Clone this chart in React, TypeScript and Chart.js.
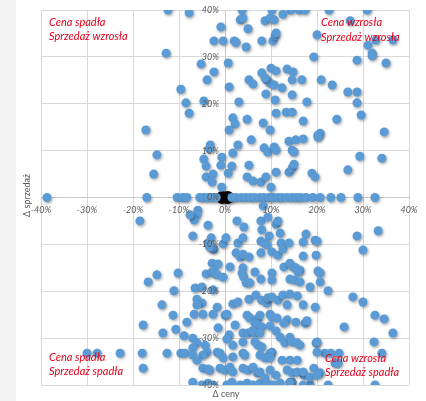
import { useEffect, useRef } from 'react';
import { Chart, registerables } from 'chart.js';

Chart.register(...registerables);

// Axis ticks (percent)
const tickValues = [-40, -30, -20, -10, 0, 10, 20, 30, 40];
const tickLabels = ['-40%', '-30%', '-20%', '-10%', '0%', '10%', '20%', '30%', '40%'];

const xAxisTitle = 'Δ ceny';
const yAxisTitle = 'Δ sprzedaż';

const quadrantLabels = {
  topLeft: ['Cena spadła', 'Sprzedaż wzrosła'],
  topRight: ['Cena wzrosła', 'Sprzedaż wzrosła'],
  bottomLeft: ['Cena spadła', 'Sprzedaż spadła'],
  bottomRight: ['Cena wzrosła', 'Sprzedaż spadła'],
};

// [Δ price %, Δ sales %] — points lying on the zero-sales line
const zeroSalesRow: [number, number][] = [
  [-38.7, 0], [-17, 0], [-10.4, 0], [-9.2, 0], [-8.3, 0], [-5.5, 0], [-4.6, 0], [-3.7, 0],
  [-2.8, 0], [-1.9, 0], [1.5, 0], [2.4, 0], [3.5, 0], [4.5, 0], [5.6, 0], [6.5, 0],
  [7.6, 0], [8.5, 0], [9.6, 0], [10.4, 0], [11.5, 0], [12.4, 0], [13.5, 0], [14.6, 0],
  [15.6, 0], [16.5, 0], [17.6, 0], [19.1, 0], [20.7, 0], [23, 0], [25.2, 0], [28.9, 0], [32.6, 0],
];

// Sales up
const salesUp: [number, number][] = [
  [-12.4, 40], [-7.8, 39.4], [-12.8, 30.8], [-5.2, 28.5], [-3.9, 25.1], [-2.4, 26.8],
  [-9.6, 23.1], [-8.5, 20.2], [-4.6, 20.6], [-7.8, 18], [-17.2, 14.4], [-14.8, 9.1],
  [-15.5, 5], [-3.2, 11.2], [-3.4, 10.4], [-4.6, 8.2], [-4.1, 6.7], [-4.1, 4.4],
  [-2.6, 5], [-2.8, 3.3], [-0.7, 8.6], [-0.9, 6.9], [-0.7, 2.2], [1.5, 6.7], [0.7, 5.2],
  [-2.4, 33.4], [-0.4, 33.4],
  [3.7, 40], [10.2, 40], [14.3, 40], [16.1, 40], [17.4, 40], [22.6, 40], [30.9, 40],
  [3.3, 37.9], [3.9, 38.3], [8.7, 37.7], [9.8, 38.3], [10.7, 37.9], [12.6, 39.1],
  [-0.9, 36.4], [5, 36], [20, 34.7], [2, 33.4], [2.4, 33.1], [4.6, 32.1], [8, 33.4],
  [10.4, 33.4], [10.9, 34.5], [11.1, 35.1], [0.7, 28.7], [0.9, 23.6], [5.2, 25.1],
  [6.1, 24.2], [8, 26.6], [9.1, 25.1], [9.8, 24.4], [10.7, 24], [10, 27.6], [11.1, 27],
  [8.7, 25.5], [13.5, 27.4], [14.8, 26.8], [14.6, 25.1], [16.7, 25.1], [12.4, 23.4],
  [8.9, 22.1], [14.6, 21.9], [19.3, 30], [10.9, 20.8], [17.8, 20.4], [3, 20.4],
  [1.7, 17], [2.2, 15.7], [0.9, 14.4], [4.8, 16.7], [8.3, 15.9], [9.8, 14.4], [11.1, 18],
  [13.3, 18.2], [14.6, 18.2], [17, 16.3], [20.2, 13.3], [2.8, 11.2], [5.7, 12.3],
  [8.5, 10.6], [9.3, 9.7], [10.7, 10.8], [11.1, 10.1], [13.9, 12], [15.4, 12.3], [17, 12.5],
  [14.6, 10.1], [15, 9.7], [1.7, 9.5], [5.2, 6.9], [4.8, 4.4], [6.1, 3.5], [7.8, 3.3],
  [8.9, 4.4], [10, 2.2], [11.1, 5.4], [13.9, 5.4], [14.6, 6.3], [15, 7.1], [18.9, 5.2], [19.6, 4.4],
  [27.2, 37.7], [32.8, 33.6], [36.5, 33.6], [31.1, 32.5], [32, 30.8], [32, 30.2], [28.7, 29.3],
  [35, 28.7], [20.9, 25.1], [23.3, 24], [26.7, 22.5], [28.7, 22.5], [28.7, 20.2], [29.6, 17.6],
  [24.3, 16.7], [34.6, 14], [20.7, 13.7], [20.2, 12.9], [29.3, 8.8], [34.1, 8.4], [26.7, 5.9],
];

// Sales down
const salesDown: [number, number][] = [
  [8.3, -1.8], [-5.9, -2.7], [-6.1, -3.7], [-6.7, -4.8], [-3.7, -5.9], [-7.6, -3.7], [-7, -8.2],
  [2.6, -5], [4.1, -6.3], [7.8, -5], [8, -6.9], [9.3, -4.2], [11.1, -5.7], [11.5, -5],
  [9.6, -8.2], [12, -7.6], [17.6, -7.8], [19.6, -9.1], [-3, -8.6], [-3.7, -9.7], [-2.4, -11],
  [-2.8, -10.8], [-0.4, -9.9], [0.2, -8.6], [2.8, -9.7], [3.9, -8.6], [2.4, -11.8], [3.3, -12.7],
  [3.9, -12.1], [5.2, -12.7], [7.8, -9.3], [7.8, -11.8], [8.7, -9.7], [9.1, -10.1], [10.2, -11.6],
  [11.5, -12.3], [12.2, -9.7], [12.6, -11], [13.9, -9.7], [17, -9.5], [17, -12.5], [19.8, -12.3],
  [-2.8, -14], [-1.5, -14.2], [-4.1, -16.3], [-2.8, -15.9], [-2.2, -15.9], [-1.7, -16.5],
  [-0.4, -17], [1.1, -14.8], [3.9, -15], [3.7, -16.1], [4.1, -17], [4.6, -18.2], [5.4, -18.2],
  [6.5, -15.9], [7.8, -17.4], [10.2, -16.1], [10.2, -17.6], [12.8, -14.8], [14.1, -14],
  [14.8, -14.8], [15.4, -15], [16.3, -15.5], [15.9, -15.9], [14.1, -17.4], [15.2, -17.6],
  [16.3, -18], [18.5, -19.1], [20.2, -15.7], [-6.5, -19.3], [-5, -19.1], [-2.6, -19.7],
  [-18.5, -5], [-3.3, -10.6], [-16.7, -18], [-14.8, -16.5], [-10.2, -16.1], [-11.1, -19.9],
  [-13.7, -22.9], [-11.3, -25.1], [-17.8, -27.2], [-8.3, -26.6], [-13.5, -28.9], [-10.7, -28.1],
  [-8.9, -29.5], [-30, -33.2], [-27.8, -33.2], [-22.8, -33.2], [-18, -33.2], [-12.6, -33.2],
  [-9.6, -33.2], [-8.7, -33.2], [-17.8, -36.4],
  [28.7, -8.2], [33.3, -7.1], [30, -11.2], [20, -9.3], [20.7, -16.1], [20.7, -18], [22.4, -19.9],
  [27.8, -21.2], [30, -22.3], [32.6, -25.1], [34.6, -25.9], [25.9, -27.6], [36.5, -28.9],
  [32.4, -30.8], [34.1, -33.2], [19.8, -31], [21.7, -33.2], [23, -33.2], [24.8, -33.2],
  [23.9, -35.3], [24.6, -35.3], [32.6, -40], [22.4, -40], [18.5, -40], [17.2, -37.9],
  [14.6, -39.4], [14.1, -39.4], [19.3, -36.4], [20.7, -37.4],
  [-6.1, -21.7], [-5, -22.5], [-6.1, -22.9], [-1.7, -23.4], [-6.7, -24.9], [-4.8, -24.9],
  [-2.6, -24.9], [0, -25.1], [0.4, -24.9], [-1.5, -27.8], [1.7, -22.7], [2.8, -22.3],
  [5.2, -21.7], [6.7, -20.8], [8, -21.9], [9.1, -22.5], [9.3, -21.4], [10.2, -21.2],
  [11.5, -21.9], [12.6, -20.8], [13.5, -22.9], [14.1, -20.6], [15.7, -21], [17, -22.9],
  [19.6, -23.4], [4.8, -25.1], [5.4, -25.7], [7, -25.9], [7.6, -25.1], [9.8, -24.9],
  [10.2, -25.5], [11.3, -25.7], [13.5, -26.1], [12.8, -26.8], [15.4, -26.6], [17.4, -26.8],
  [17.8, -26.3], [2.2, -27.2], [6.5, -26.8], [7.2, -27.2], [8, -27.6], [9.8, -27.4],
  [11.1, -28.5], [3.9, -28.9], [5, -28.9], [5.9, -28.5], [6.5, -28.9], [7.6, -28.9],
  [0.9, -29.3], [0.4, -30.2], [-7, -30], [-6.1, -31], [-7, -32.1], [-4.3, -31.5], [-3.9, -33],
  [-4.8, -33.6], [-1.7, -33], [-1.1, -33.2], [1.7, -31.5], [3.9, -30.8], [6.5, -30.8],
  [7.2, -31.5], [8, -31.9], [10.2, -33], [9.8, -33.2], [12, -29.8], [13, -31], [14.1, -29.8],
  [14.6, -30.8], [15.7, -31], [16.3, -31.5], [20, -30.8], [20, -33], [3.9, -33.2], [4.3, -33.6],
  [1.7, -34], [-0.4, -34.2], [7.6, -33.6], [8.7, -34.2], [9.8, -34.2], [12.4, -34.7],
  [14.1, -34.7], [15.7, -34.7], [-7, -33.6], [-6.1, -34.7], [-4.8, -36.4], [-3.7, -36.6],
  [-3.3, -36.8], [-1.1, -36.4], [0, -36.8], [1.1, -36.2], [1.7, -37.2], [3.9, -36.4],
  [5, -36.8], [6.1, -36.2], [7, -37.4], [7.6, -37.2], [9.8, -36.8], [11.1, -37.9],
  [13.5, -36.8], [14.6, -37.4], [15.7, -37.2], [17, -37.2], [18.5, -38.3], [20, -37.9],
  [-7, -39.4], [-5, -40], [-3.7, -39.6], [-2.6, -40], [0.4, -40], [1.5, -39.4], [3.3, -40],
  [4.8, -39.6], [6.1, -40], [7.6, -39.6], [8.7, -38.5], [9.1, -39.6], [10.4, -40], [12, -39.6],
  [14.1, -39.6], [17, -40],
];

// Highlighted origin marker
const originMarker: [number, number][] = [[-0.6, 0], [0.6, 0]];

const BLUE = '#5b9bd5';
const RED = '#e3001b';
const GRAY_TEXT = '#595959';
const FONT = 'Lato, "Open Sans", "DejaVu Sans", sans-serif';

const toXY = (arr: [number, number][]) => arr.map(([x, y]) => ({ x, y }));

const shadowPlugin = {
  id: 'pointShadow',
  beforeDatasetsDraw(chart: any) {
    const ctx = chart.ctx;
    ctx.save();
    ctx.shadowColor = 'rgba(0,0,0,0.35)';
    ctx.shadowBlur = 3;
    ctx.shadowOffsetX = 1;
    ctx.shadowOffsetY = 1.5;
  },
  afterDatasetsDraw(chart: any) {
    chart.ctx.restore();
  },
};

const textPlugin = {
  id: 'chartTexts',
  afterDatasetsDraw(chart: any) {
    const { ctx, chartArea, scales } = chart;
    const xs = scales.x;
    const ys = scales.y;
    const x0 = xs.getPixelForValue(0);
    const y0 = ys.getPixelForValue(0);
    ctx.save();
    // tick labels
    ctx.fillStyle = GRAY_TEXT;
    ctx.font = `italic 9px ${FONT}`;
    ctx.textBaseline = 'middle';
    ctx.textAlign = 'center';
    tickValues.forEach((v, i) => {
      ctx.fillText(tickLabels[i], xs.getPixelForValue(v), y0 + 12.5);
    });
    ctx.textAlign = 'right';
    tickValues.forEach((v, i) => {
      ctx.fillText(tickLabels[i], x0 - 6, ys.getPixelForValue(v));
    });
    // axis titles
    ctx.font = `9px ${FONT}`;
    ctx.textAlign = 'center';
    ctx.fillText(xAxisTitle, (chartArea.left + chartArea.right) / 2 + 1, chartArea.bottom + 9);
    ctx.save();
    ctx.translate(27, (chartArea.top + chartArea.bottom) / 2 - 2);
    ctx.rotate(-Math.PI / 2);
    ctx.fillText(yAxisTitle, 0, 0);
    ctx.restore();
    // quadrant labels
    ctx.fillStyle = RED;
    ctx.font = `italic 11px ${FONT}`;
    ctx.textAlign = 'left';
    const lh = 14.5;
    const drawLines = (lines: string[], x: number, y: number) => {
      lines.forEach((t, i) => ctx.fillText(t, x, y + i * lh));
    };
    drawLines(quadrantLabels.topLeft, chartArea.left + 8, chartArea.top + 12);
    drawLines(quadrantLabels.topRight, chartArea.right - 88, chartArea.top + 12.5);
    drawLines(quadrantLabels.bottomLeft, chartArea.left + 8, chartArea.bottom - 28);
    drawLines(quadrantLabels.bottomRight, chartArea.right - 84, chartArea.bottom - 27);
    ctx.restore();
  },
};

export default function App() {
  const canvasRef = useRef<HTMLCanvasElement | null>(null);

  useEffect(() => {
    if (!canvasRef.current) return;
    const chart = new Chart(canvasRef.current, {
      type: 'scatter',
      data: {
        datasets: [
          {
            label: 'obserwacje',
            data: toXY([...zeroSalesRow, ...salesUp, ...salesDown]),
            backgroundColor: BLUE,
            borderColor: BLUE,
            borderWidth: 0,
            pointRadius: 4.5,
            pointHoverRadius: 4.5,
            order: 1,
          },
          {
            label: 'origin',
            data: toXY(originMarker),
            backgroundColor: '#000000',
            borderColor: '#000000',
            borderWidth: 0,
            pointRadius: 6.5,
            order: 2,
          },
        ],
      },
      options: {
        responsive: false,
        animation: false,
        events: [],
        layout: { padding: { left: 41, right: 17, top: 10, bottom: 16 } },
        plugins: {
          legend: { display: false },
          tooltip: { enabled: false },
          title: { display: false },
        },
        scales: {
          x: {
            type: 'linear',
            min: -40,
            max: 40,
            position: { y: 0 } as any,
            ticks: { display: false, stepSize: 10 },
            grid: { color: '#d9d9d9', drawTicks: false, lineWidth: 1 },
            border: { display: true, color: '#c8c8c8' },
          },
          y: {
            type: 'linear',
            min: -40,
            max: 40,
            position: { x: 0 } as any,
            ticks: { display: false, stepSize: 10 },
            grid: { color: '#d9d9d9', drawTicks: false, lineWidth: 1 },
            border: { display: true, color: '#c8c8c8' },
          },
        },
      },
      plugins: [shadowPlugin, textPlugin],
    });
    return () => chart.destroy();
  }, []);

  return (
    <div style={{ position: 'absolute', left: 0, top: 0, width: 426, height: 401, background: '#ffffff' }}>
      <div style={{ position: 'absolute', left: 0, top: 0, width: 16, height: 401, background: '#f3f3f3' }} />
      <canvas ref={canvasRef} width={426} height={401} style={{ position: 'absolute', left: 0, top: 0 }} />
    </div>
  );
}
